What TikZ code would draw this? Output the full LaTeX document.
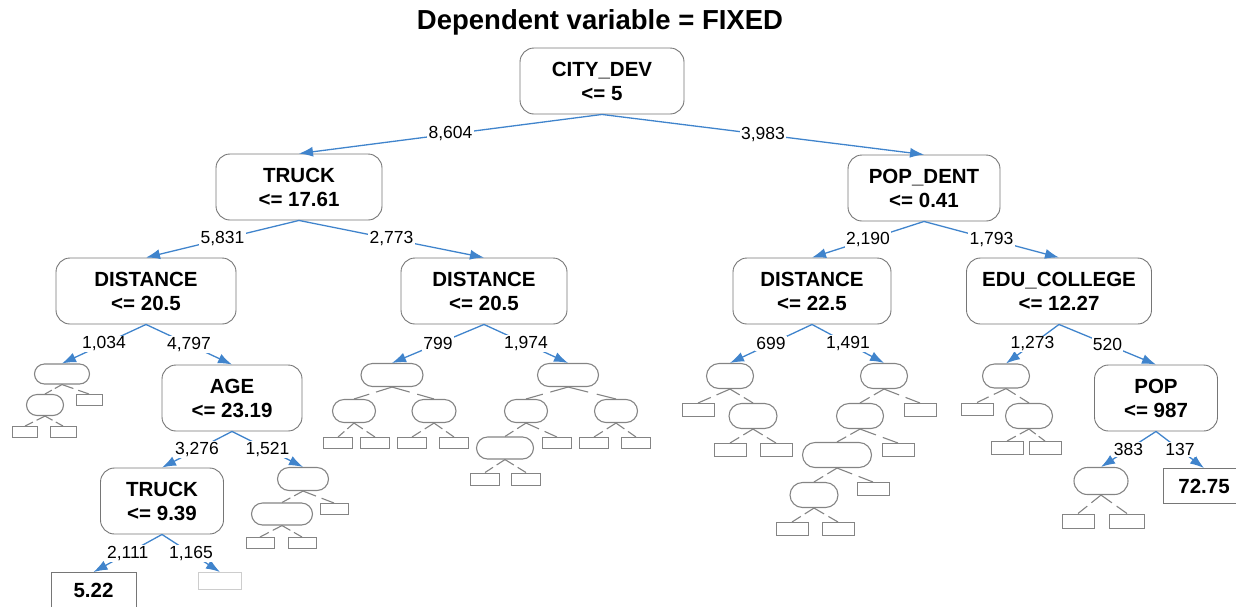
\documentclass[tikz,border=0pt]{standalone}
\usepackage{fontspec}
\setmainfont{Liberation Sans}
\usetikzlibrary{arrows.meta,shapes.misc,calc}
\definecolor{edgeblue}{RGB}{64,132,204}
\definecolor{boxgray}{RGB}{118,118,118}
\definecolor{smallgray}{RGB}{132,132,132}
\definecolor{palegray}{RGB}{205,205,205}
\tikzset{
  big/.style={draw=boxgray, line width=0.9pt, rounded corners=14pt, fill=white, align=center,
    font=\bfseries\fontsize{20.5}{24}\selectfont, minimum height=66pt, inner sep=0pt},
  leafval/.style={draw=boxgray, line width=0.9pt, fill=white, font=\bfseries\fontsize{20.5}{24}\selectfont,
    minimum height=35pt, inner sep=0pt},
  pill/.style={rounded rectangle, draw=smallgray, line width=1.1pt, inner sep=0pt},
  sbox/.style={rectangle, draw=smallgray, line width=1pt, inner sep=0pt},
  bedge/.style={draw=edgeblue, line width=1.3pt, -{Latex[length=14pt,width=10pt]}},
  elabel/.style={fill=white, inner sep=1.2pt, font=\fontsize{17.5}{19}\selectfont, text=black},
  sedge/.style={draw=smallgray, line width=1.1pt},
}
\begin{document}
\begin{tikzpicture}[x=1pt,y=-1pt]
\path[use as bounding box] (0,0) rectangle (1236,606);
\clip (0,0) rectangle (1236,606);

\node[font=\bfseries\fontsize{27.5}{30}\selectfont] (title) at (600,22) {Dependent variable = FIXED};

% big decision nodes
\node[big, minimum width=164pt] (root) at (602,81) {CITY\_DEV\\<= 5};
\node[big, minimum width=166pt] (t1) at (299,187) {TRUCK\\<= 17.61};
\node[big, minimum width=152pt] (pd) at (924,188) {POP\_DENT\\<= 0.41};
\node[big, minimum width=180pt] (d1) at (146,291) {DISTANCE\\<= 20.5};
\node[big, minimum width=166pt] (d2) at (484,291) {DISTANCE\\<= 20.5};
\node[big, minimum width=158pt] (d3) at (812,291) {DISTANCE\\<= 22.5};
\node[big, minimum width=185pt] (edu) at (1059,291) {EDU\_COLLEGE\\<= 12.27};
\node[big, minimum width=140pt] (age) at (232,398) {AGE\\<= 23.19};
\node[big, minimum width=123pt] (t2) at (162,501) {TRUCK\\<= 9.39};
\node[big, minimum width=123pt] (pop) at (1156,398) {POP\\<= 987};

% leaf values
\node[leafval, minimum width=85pt] (v522) at (93.5,590) {5.22};
\node[sbox, draw=palegray, minimum width=43pt, minimum height=17pt] (empty) at (220,581) {};
\node[leafval, minimum width=82pt] (v7275) at (1204,486) {72.75};

% small subtree under 1,034
\node[pill, minimum width=55pt, minimum height=20pt] (A) at (62,374) {};
\node[pill, minimum width=37pt, minimum height=21pt] (B) at (45,405) {};
\node[sbox, minimum width=26pt, minimum height=11pt] (C) at (89,400) {};
\node[sbox, minimum width=25pt, minimum height=11pt] (D) at (25,432) {};
\node[sbox, minimum width=26pt, minimum height=11pt] (E) at (63,432) {};

% under 1,521
\node[pill, minimum width=51pt, minimum height=23pt] (F) at (303,479) {};
\node[pill, minimum width=61pt, minimum height=22pt] (G) at (282,514) {};
\node[sbox, minimum width=28pt, minimum height=11pt] (H) at (334,509) {};
\node[sbox, minimum width=28pt, minimum height=11pt] (I) at (260,543) {};
\node[sbox, minimum width=28pt, minimum height=11pt] (J) at (302,543) {};

% under 799
\node[pill, minimum width=62pt, minimum height=23pt] (K) at (392,375) {};
\node[pill, minimum width=43pt, minimum height=23pt] (L) at (354,411) {};
\node[pill, minimum width=44pt, minimum height=23pt] (M) at (434,411) {};
\node[sbox, minimum width=29pt, minimum height=11pt] (K1) at (338,443) {};
\node[sbox, minimum width=29pt, minimum height=11pt] (K2) at (375,443) {};
\node[sbox, minimum width=29pt, minimum height=11pt] (K3) at (412,443) {};
\node[sbox, minimum width=29pt, minimum height=11pt] (K4) at (454,443) {};

% under 1,974
\node[pill, minimum width=61pt, minimum height=23pt] (N) at (568,375) {};
\node[pill, minimum width=43pt, minimum height=23pt] (O) at (526,411) {};
\node[pill, minimum width=43pt, minimum height=23pt] (P) at (616,411) {};
\node[pill, minimum width=57pt, minimum height=22pt] (Q) at (505,448) {};
\node[sbox, minimum width=29pt, minimum height=11pt] (N1) at (557,443) {};
\node[sbox, minimum width=29pt, minimum height=11pt] (N2) at (594,443) {};
\node[sbox, minimum width=29pt, minimum height=11pt] (N3) at (636,443) {};
\node[sbox, minimum width=29pt, minimum height=12pt] (N4) at (485,479) {};
\node[sbox, minimum width=29pt, minimum height=12pt] (N5) at (526,479) {};

% under 699
\node[pill, minimum width=47pt, minimum height=25pt] (R) at (730,376) {};
\node[sbox, minimum width=32pt, minimum height=13pt] (R1) at (698,410) {};
\node[pill, minimum width=48pt, minimum height=25pt] (S) at (753,416) {};
\node[sbox, minimum width=32pt, minimum height=13pt] (R2) at (730,450) {};
\node[sbox, minimum width=32pt, minimum height=13pt] (R3) at (776,450) {};

% under 1,491
\node[pill, minimum width=47pt, minimum height=25pt] (T) at (884,376) {};
\node[pill, minimum width=47pt, minimum height=25pt] (U) at (860,416) {};
\node[sbox, minimum width=32pt, minimum height=13pt] (T1) at (920,410) {};
\node[pill, minimum width=69pt, minimum height=25pt] (V) at (837,455) {};
\node[sbox, minimum width=32pt, minimum height=13pt] (T2) at (898,450) {};
\node[pill, minimum width=48pt, minimum height=25pt] (W) at (814,495) {};
\node[sbox, minimum width=32pt, minimum height=13pt] (T3) at (873,489) {};
\node[sbox, minimum width=32pt, minimum height=13pt] (T4) at (792,529) {};
\node[sbox, minimum width=32pt, minimum height=13pt] (T5) at (838,529) {};

% under 1,273
\node[pill, minimum width=47pt, minimum height=24pt] (X) at (1006,376) {};
\node[sbox, minimum width=32pt, minimum height=12pt] (X1) at (977,409) {};
\node[pill, minimum width=47pt, minimum height=25pt] (Y) at (1029,416) {};
\node[sbox, minimum width=32pt, minimum height=13pt] (X2) at (1007,448) {};
\node[sbox, minimum width=32pt, minimum height=13pt] (X3) at (1045,448) {};

% under 383
\node[pill, minimum width=54pt, minimum height=27pt] (Z) at (1101,481) {};
\node[sbox, minimum width=32pt, minimum height=14pt] (Z1) at (1078,521) {};
\node[sbox, minimum width=35pt, minimum height=14pt] (Z2) at (1127,521) {};

% dashed small edges
\foreach \p/\c in {A/B,A/C,B/D,B/E,F/G,F/H,G/I,G/J,K/L,K/M,L/K1,L/K2,M/K3,M/K4,
  N/O,N/P,O/Q,O/N1,P/N2,P/N3,Q/N4,Q/N5,R/R1,R/S,S/R2,S/R3,
  T/U,T/T1,U/V,U/T2,V/W,V/T3,W/T4,W/T5,X/X1,X/Y,Y/X2,Y/X3,Z/Z1,Z/Z2}
  \draw[sedge] (\p.south) -- ($(\p.south)!0.42!(\c.north)$)
               ($(\p.south)!0.6!(\c.north)$) -- (\c.north);

% blue labelled edges
\draw[bedge] (root.south) -- node[elabel]{8,604} (t1.north);
\draw[bedge] (root.south) -- node[elabel]{3,983} (pd.north);
\draw[bedge] (t1.south) -- node[elabel]{5,831} (d1.north);
\draw[bedge] (t1.south) -- node[elabel]{2,773} (d2.north);
\draw[bedge] (pd.south) -- node[elabel]{2,190} (d3.north);
\draw[bedge] (pd.south) -- node[elabel]{1,793} (edu.north);
\draw[bedge] (d1.south) -- node[elabel]{1,034} (A.north);
\draw[bedge] (d1.south) -- node[elabel]{4,797} (age.north);
\draw[bedge] (d2.south) -- node[elabel]{799} (K.north);
\draw[bedge] (d2.south) -- node[elabel]{1,974} (N.north);
\draw[bedge] (d3.south) -- node[elabel]{699} (R.north);
\draw[bedge] (d3.south) -- node[elabel]{1,491} (T.north);
\draw[bedge] (edu.south) -- node[elabel]{1,273} (X.north);
\draw[bedge] (edu.south) -- node[elabel]{520} (pop.north);
\draw[bedge] (age.south) -- node[elabel]{3,276} (t2.north);
\draw[bedge] (age.south) -- node[elabel]{1,521} (F.north);
\draw[bedge] (t2.south) -- node[elabel]{2,111} (v522.north);
\draw[bedge] (t2.south) -- node[elabel]{1,165} (empty.north);
\draw[bedge] (pop.south) -- node[elabel]{383} (Z.north);
\draw[bedge] (pop.south) -- node[elabel]{137} (v7275.north);
\end{tikzpicture}
\end{document}
